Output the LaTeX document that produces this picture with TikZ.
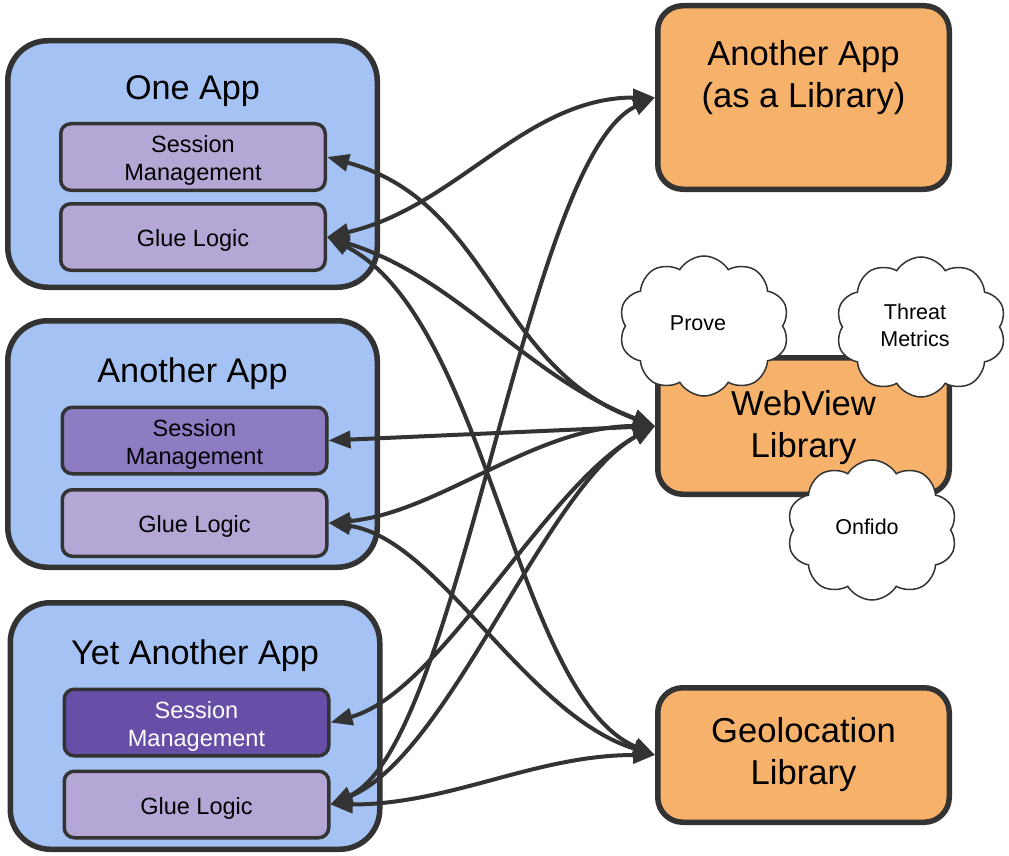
\documentclass[tikz,border=0pt]{standalone}
\usepackage{fontspec}
\setmainfont{Liberation Sans}
\usetikzlibrary{shapes.symbols,arrows.meta}
\definecolor{appblue}{HTML}{A4C2F4}
\definecolor{edgegray}{HTML}{333333}
\definecolor{lav}{HTML}{B4A7D6}
\definecolor{midpurple}{HTML}{8E7CC3}
\definecolor{deeppurple}{HTML}{674EA7}
\definecolor{libora}{HTML}{F6B26B}
\begin{document}
\begin{tikzpicture}[x=1pt,y=-1pt,
  appbox/.style={draw=edgegray, fill=appblue, line width=5.5pt, rounded corners=40pt,
    minimum width=369.5pt, minimum height=246.5pt, inner sep=0pt},
  subbox/.style={draw=edgegray, fill=lav, line width=3.5pt, rounded corners=10pt,
    minimum width=264.5pt, minimum height=66.5pt, inner sep=0pt},
  subtext/.style={align=center, inner sep=0pt, yshift=-3.5pt,
    font=\fontsize{23.5}{28}\selectfont},
  apptitle/.style={font=\fontsize{34.2}{40}\selectfont, inner sep=0pt},
  libbox/.style={draw=edgegray, fill=libora, line width=5.5pt, rounded corners=25pt,
    minimum width=291.5pt, inner sep=0pt},
  libtext/.style={align=center, inner sep=0pt, yshift=-1.5pt,
    font=\fontsize{34.6}{42.5}\selectfont},
  cloudnode/.style={cloud, cloud puffs=10, cloud puff arc=118, aspect=1.25,
    draw=edgegray, fill=white, line width=1.5pt, minimum width=170pt,
    minimum height=140pt, inner sep=0pt},
  cloudtext/.style={align=center, inner sep=0pt,
    font=\fontsize{21.5}{27}\selectfont},
  link/.style={draw=edgegray, line width=4pt,
    {Triangle[length=22pt,width=17pt]}-{Triangle[length=22pt,width=17pt]}}
]
\useasboundingbox[fill=white] (0,0) rectangle (1009,856);

% app containers
\node[appbox] (one) at (192.5,164) {};
\node[appbox] (another) at (192.5,444) {};
\node[appbox] (yet) at (195,726) {};
\node[apptitle] (oneT) at (192.5,91.5) {One App};
\node[apptitle] (anotherT) at (192.5,373.5) {Another App};
\node[apptitle] (yetT) at (195,655.5) {Yet Another App};

% sub boxes
\node[subbox] (oneS) at (193,157) {};
\node[subtext] (oneSt) at (oneS) {Session\\Management};
\node[subbox] (oneG) at (193,237) {};
\node[subtext] (oneGt) at (oneG) {Glue Logic};
\node[subbox, fill=midpurple] (anS) at (194.5,440.5) {};
\node[subtext] (anSt) at (anS) {Session\\Management};
\node[subbox] (anG) at (194.5,523) {};
\node[subtext] (anGt) at (anG) {Glue Logic};
\node[subbox, fill=deeppurple] (yetS) at (196.5,722.5) {};
\node[subtext, text=white] (yetSt) at (yetS) {Session\\Management};
\node[subbox] (yetG) at (196.5,804.5) {};
\node[subtext] (yetGt) at (yetG) {Glue Logic};

% libraries
\node[libbox, minimum height=183.5pt] (libA) at (803.5,97.5) {};
\node[libtext] (libAt) at (803.5,76) {Another App\\(as a Library)};
\node[libbox, minimum height=136.5pt] (web) at (803.5,426) {};
\node[libtext] (webt) at (web) {WebView\\Library};
\node[libbox, minimum height=134.5pt] (geo) at (803.5,755) {};
\node[libtext] (geot) at (803.5,753) {Geolocation\\Library};

% clouds
\node[cloudnode] (prove) at (704,326) {};
\node[cloudtext] (provet) at (698,323) {Prove};
\node[cloudnode] (threat) at (921,327) {};
\node[cloudtext] (threatt) at (915,325) {Threat\\Metrics};
\node[cloudnode] (onfido) at (872,530) {};
\node[cloudtext] (onfidot) at (867,527) {Onfido};

% connectors
\draw[link] (oneS.east) .. controls +(165,45) and +(-160,-58) .. (web.west);
\draw[link] (oneG.east) .. controls +(130,-30) and +(-130,0) .. (libA.west);
\draw[link] (oneG.east) .. controls +(130,40) and +(-130,-50) .. (web.west);
\draw[link] (oneG.east) .. controls +(160,80) and +(-140,-60) .. (geo.west);
\draw[link] (anS.east) -- (web.west);
\draw[link] (anG.east) .. controls +(110,-10) and +(-120,0) .. (web.west);
\draw[link] (anG.east) .. controls +(110,15) and +(-130,-40) .. (geo.west);
\draw[link] (yetS.east) .. controls +(110,-30) and +(-110,60) .. (web.west);
\draw[link] (yetG.east) .. controls +(130,-60) and +(-130,60) .. (libA.west);
\draw[link] (yetG.east) .. controls +(120,-50) and +(-110,60) .. (web.west);
\draw[link] (yetG.east) .. controls +(120,0) and +(-120,0) .. (geo.west);
\end{tikzpicture}
\end{document}
